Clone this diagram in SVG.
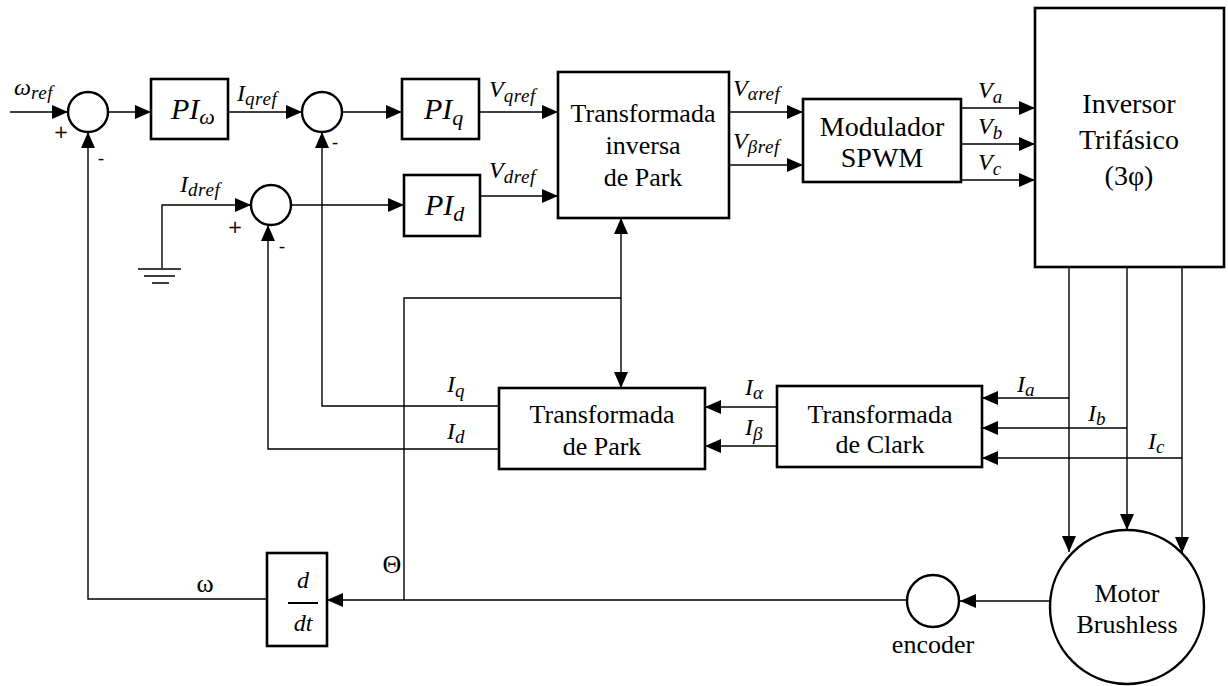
<svg xmlns="http://www.w3.org/2000/svg" width="1228" height="686" viewBox="0 0 1228 686">
<style>
.box{fill:#fff;stroke:#000;stroke-width:2.6}
.sum{fill:#fff;stroke:#000;stroke-width:2.4}
.ln{fill:none;stroke:#000;stroke-width:1.4}
.t{font-family:"Liberation Serif","Times New Roman",serif;font-size:26px;fill:#000;text-anchor:middle}
.t28{font-family:"Liberation Serif","Times New Roman",serif;font-size:28px;fill:#000;text-anchor:middle}
.m{font-family:"Liberation Serif","Times New Roman",serif;font-style:italic;font-size:24px;fill:#000}
.pi{font-family:"Liberation Serif","Times New Roman",serif;font-style:italic;font-size:30px;fill:#000}
.s{font-size:19px;letter-spacing:0.6px}
.sg{font-family:"DejaVu Sans","Liberation Sans",sans-serif;font-size:18px;fill:#000;text-anchor:middle}
</style>
<defs>
<marker id="ar" markerUnits="userSpaceOnUse" markerWidth="16" markerHeight="14" viewBox="0 0 16 14" refX="16" refY="7" orient="auto">
<path d="M0,0 L16,7 L0,14 Z" fill="#000"/>
</marker>
<marker id="ars" markerUnits="userSpaceOnUse" markerWidth="16" markerHeight="14" viewBox="0 0 16 14" refX="0" refY="7" orient="auto">
<path d="M16,0 L0,7 L16,14 Z" fill="#000"/>
</marker>
</defs>
<rect width="1228" height="686" fill="#fff"/>

<g id="connectors">
<path class="ln" d="M10,112 H68" marker-end="url(#ar)"/>
<path class="ln" d="M109,112 H151" marker-end="url(#ar)"/>
<path class="ln" d="M228,112 H302" marker-end="url(#ar)"/>
<path class="ln" d="M342,112 H402" marker-end="url(#ar)"/>
<path class="ln" d="M479,112 H558" marker-end="url(#ar)"/>
<path class="ln" d="M480,196 H558" marker-end="url(#ar)"/>
<path class="ln" d="M162,268 V205 H251" marker-end="url(#ar)"/>
<path class="ln" d="M291,205 H404" marker-end="url(#ar)"/>
<path class="ln" d="M729,112 H803" marker-end="url(#ar)"/>
<path class="ln" d="M729,165 H803" marker-end="url(#ar)"/>
<path class="ln" d="M961,108 H1035" marker-end="url(#ar)"/>
<path class="ln" d="M961,144 H1035" marker-end="url(#ar)"/>
<path class="ln" d="M961,180 H1035" marker-end="url(#ar)"/>
<path class="ln" d="M1069,267 V552" marker-end="url(#ar)"/>
<path class="ln" d="M1127,267 V530" marker-end="url(#ar)"/>
<path class="ln" d="M1182,267 V553" marker-end="url(#ar)"/>
<path class="ln" d="M1069,398 H982" marker-end="url(#ar)"/>
<path class="ln" d="M1127,428 H982" marker-end="url(#ar)"/>
<path class="ln" d="M1182,458 H982" marker-end="url(#ar)"/>
<path class="ln" d="M777,407 H705" marker-end="url(#ar)"/>
<path class="ln" d="M777,446 H705" marker-end="url(#ar)"/>
<path class="ln" d="M499,406 H322 V132" marker-end="url(#ar)"/>
<path class="ln" d="M499,449 H268 V225" marker-end="url(#ar)"/>
<path class="ln" d="M621,218 V388" marker-start="url(#ars)" marker-end="url(#ar)"/>
<path class="ln" d="M404,600 V298 H621"/>
<path class="ln" d="M1049,601 H960" marker-end="url(#ar)"/>
<path class="ln" d="M907,600 H327" marker-end="url(#ar)"/>
<path class="ln" d="M267,599 H88 V132" marker-end="url(#ar)"/>
<path class="ln" d="M138,269 H181 M144,276 H175 M152,283 H169" stroke-width="1.6"/>
</g>

<g id="sum1"><circle class="sum" cx="88" cy="112" r="20"/></g>
<g id="sum2"><circle class="sum" cx="322" cy="112" r="20"/></g>
<g id="sum3"><circle class="sum" cx="271" cy="205" r="20"/></g>

<g id="pi_w"><rect class="box" x="151" y="79" width="77" height="60"/>
<text class="pi" x="171" y="119">PI<tspan font-size="22" dy="5">ω</tspan></text></g>
<g id="pi_q"><rect class="box" x="402" y="79" width="77" height="60"/>
<text class="pi" x="424" y="119">PI<tspan font-size="22" dy="6">q</tspan></text></g>
<g id="pi_d"><rect class="box" x="404" y="175" width="76" height="61"/>
<text class="pi" x="425" y="215">PI<tspan font-size="22" dy="6">d</tspan></text></g>

<g id="inv_park"><rect class="box" x="558" y="72" width="171" height="146"/>
<text class="t" x="643" y="122">Transformada</text>
<text class="t" x="643" y="154">inversa</text>
<text class="t" x="643" y="186">de Park</text></g>

<g id="spwm"><rect class="box" x="803" y="99" width="158" height="83"/>
<text class="t28" x="882" y="136">Modulador</text>
<text class="t28" x="882" y="167">SPWM</text></g>

<g id="inversor"><rect class="box" x="1035" y="8" width="189" height="259"/>
<text class="t28" x="1129" y="113">Inversor</text>
<text class="t28" x="1129" y="149">Trifásico</text>
<text class="t28" x="1129" y="185">(3φ)</text></g>

<g id="park"><rect class="box" x="499" y="388" width="206" height="81"/>
<text class="t" x="602" y="423">Transformada</text>
<text class="t" x="602" y="455">de Park</text></g>

<g id="clark"><rect class="box" x="777" y="386" width="205" height="81"/>
<text class="t" x="880" y="423">Transformada</text>
<text class="t" x="880" y="453">de Clark</text></g>

<g id="ddt"><rect class="box" x="267" y="553" width="60" height="93"/>
<text class="m" x="303" y="588" text-anchor="middle" font-size="26">d</text>
<path d="M288,603 H318" stroke="#000" stroke-width="2"/>
<text class="m" x="303" y="631" text-anchor="middle" font-size="26">dt</text></g>

<g id="motor"><circle class="sum" cx="1127" cy="607" r="77"/>
<text class="t" x="1127" y="602">Motor</text>
<text class="t" x="1127" y="633">Brushless</text></g>

<g id="encoder"><circle class="sum" cx="933" cy="601" r="26"/>
<text class="t" x="933" y="653">encoder</text></g>

<g id="labels">
<text class="m" x="14" y="95">ω<tspan class="s" dy="4">ref</tspan></text>
<text class="m" x="237" y="101">I<tspan class="s" dy="4">qref</tspan></text>
<text class="m" x="489" y="97">V<tspan class="s" dy="5">qref</tspan></text>
<text class="m" x="489" y="178">V<tspan class="s" dy="5">dref</tspan></text>
<text class="m" x="733" y="96">V<tspan class="s" dy="4">αref</tspan></text>
<text class="m" x="733" y="149">V<tspan class="s" dy="4">βref</tspan></text>
<text class="m" x="180" y="192">I<tspan class="s" dy="4">dref</tspan></text>
<text class="m" x="978" y="98">V<tspan class="s" dy="5">a</tspan></text>
<text class="m" x="978" y="134">V<tspan class="s" dy="5">b</tspan></text>
<text class="m" x="978" y="170">V<tspan class="s" dy="5">c</tspan></text>
<text class="m" x="447" y="392">I<tspan class="s" dy="5">q</tspan></text>
<text class="m" x="447" y="439">I<tspan class="s" dy="4">d</tspan></text>
<text class="m" x="745" y="395">I<tspan class="s" dy="4">α</tspan></text>
<text class="m" x="745" y="435">I<tspan class="s" dy="5">β</tspan></text>
<text class="m" x="1017" y="392">I<tspan class="s" dy="4">a</tspan></text>
<text class="m" x="1088" y="421">I<tspan class="s" dy="4">b</tspan></text>
<text class="m" x="1148" y="449">I<tspan class="s" dy="4">c</tspan></text>
<text class="sg" x="61" y="138">+</text>
<text class="sg" x="101" y="164">-</text>
<text class="sg" x="335" y="148">-</text>
<text class="sg" x="235" y="233">+</text>
<text class="sg" x="282" y="252">-</text>
<text class="t" x="205" y="592" font-size="22">ω</text>
<text class="t" x="392" y="573" font-size="24">Θ</text>
</g>
</svg>
